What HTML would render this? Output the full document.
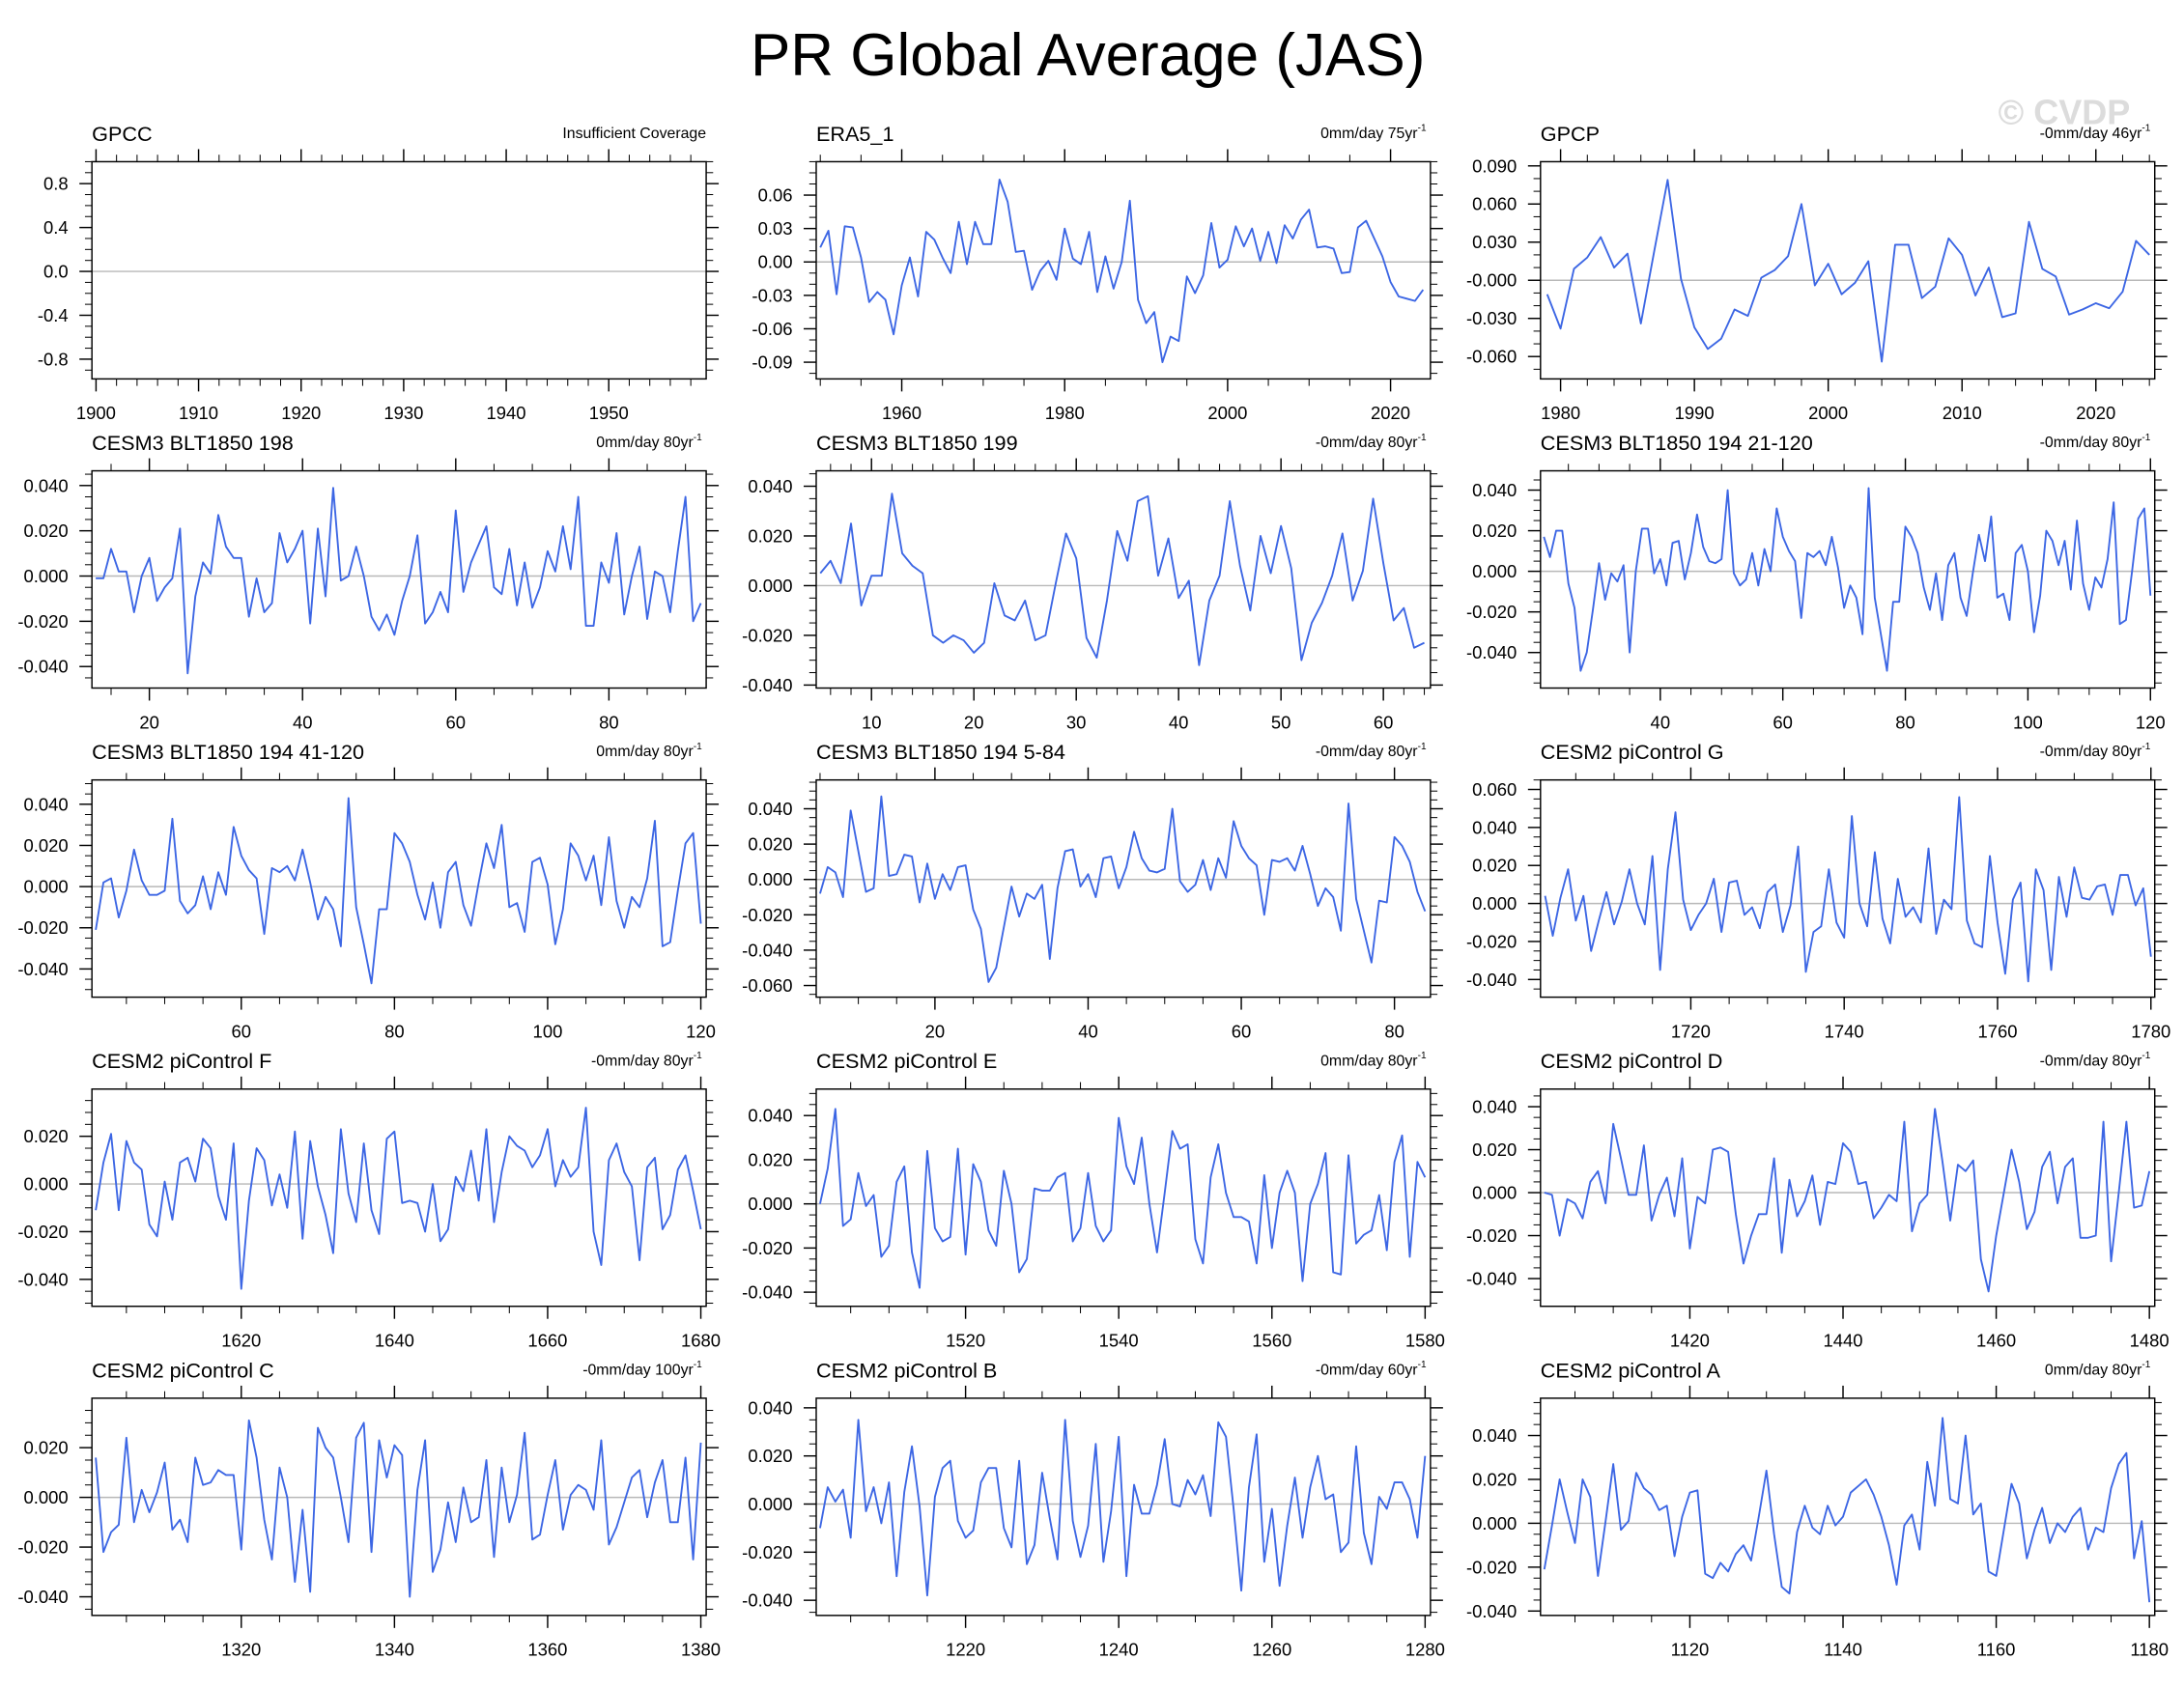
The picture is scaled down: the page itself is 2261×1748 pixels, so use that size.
<!DOCTYPE html>
<html><head><meta charset="utf-8"><title>PR Global Average (JAS)</title>
<style>
html,body{margin:0;padding:0;background:#fff;}
svg{display:block;}
text{font-family:"Liberation Sans",Arial,sans-serif;fill:#000;}
</style></head>
<body>
<svg id="fig" xmlns="http://www.w3.org/2000/svg" width="2261" height="1748" viewBox="0 0 1568 1212">
<rect x="0" y="0" width="1568" height="1212" fill="#fff"/>
<text x="781" y="54" font-size="43" text-anchor="middle">PR Global Average (JAS)</text>
<text x="1482" y="89" font-size="25" font-weight="bold" text-anchor="middle" style="fill:#dcdcdc">© CVDP</text>
</svg>
<script>
// ---------- data (mm/day anomalies) ----------
const gpccStart = [1900];
const gpccValues = [];
const era5Start = [1950];
const era5Values = [0.013,0.028,-0.029,0.032,0.031,0.004,-0.036,-0.027,-0.034,-0.065,-0.021,0.004,-0.031,0.027,0.020,0.004,-0.010,0.036,-0.002,0.036,0.016,0.016,0.074,0.054,0.009,0.010,-0.025,-0.008,0.001,-0.016,0.030,0.003,-0.002,0.027,-0.027,0.005,-0.024,0.000,0.055,-0.034,-0.055,-0.045,-0.090,-0.067,-0.071,-0.013,-0.028,-0.012,0.035,-0.005,0.002,0.032,0.014,0.030,0.001,0.027,-0.001,0.033,0.021,0.038,0.047,0.013,0.014,0.012,-0.010,-0.009,0.031,0.037,0.021,0.005,-0.018,-0.031,-0.033,-0.035,-0.025];
const gpcpStart = [1979];
const gpcpValues = [-0.011,-0.038,0.009,0.018,0.034,0.010,0.021,-0.034,0.023,0.079,0.001,-0.037,-0.054,-0.046,-0.023,-0.028,0.002,0.008,0.019,0.060,-0.004,0.013,-0.011,-0.002,0.015,-0.064,0.028,0.028,-0.014,-0.005,0.033,0.020,-0.012,0.010,-0.029,-0.026,0.046,0.009,0.003,-0.027,-0.023,-0.018,-0.022,-0.009,0.031,0.020];
const b198Start = [13];
const b198Values = [-0.001,-0.001,0.012,0.002,0.002,-0.016,0.000,0.008,-0.011,-0.005,-0.001,0.021,-0.043,-0.009,0.006,0.001,0.027,0.013,0.008,0.008,-0.018,-0.001,-0.016,-0.012,0.019,0.006,0.012,0.020,-0.021,0.021,-0.009,0.039,-0.002,0.000,0.013,0.000,-0.018,-0.024,-0.017,-0.026,-0.011,0.000,0.018,-0.021,-0.016,-0.007,-0.016,0.029,-0.007,0.006,0.014,0.022,-0.005,-0.008,0.012,-0.013,0.006,-0.014,-0.005,0.011,0.002,0.022,0.003,0.035,-0.022,-0.022,0.006,-0.003,0.019,-0.017,0.000,0.013,-0.019,0.002,0.000,-0.016,0.011,0.035,-0.020,-0.012];
const b199Start = [5];
const b199Values = [0.005,0.010,0.001,0.025,-0.008,0.004,0.004,0.037,0.013,0.008,0.005,-0.020,-0.023,-0.020,-0.022,-0.027,-0.023,0.001,-0.012,-0.014,-0.006,-0.022,-0.020,0.001,0.021,0.011,-0.021,-0.029,-0.006,0.022,0.010,0.034,0.036,0.004,0.019,-0.005,0.002,-0.032,-0.006,0.004,0.034,0.008,-0.010,0.020,0.005,0.024,0.007,-0.030,-0.015,-0.007,0.004,0.021,-0.006,0.006,0.035,0.009,-0.014,-0.009,-0.025,-0.023];
const b194aStart = [21];
const b194aValues = [0.017,0.007,0.020,0.020,-0.006,-0.018,-0.049,-0.040,-0.019,0.004,-0.014,-0.001,-0.005,0.003,-0.040,0.000,0.021,0.021,-0.001,0.006,-0.007,0.014,0.015,-0.004,0.009,0.028,0.012,0.005,0.004,0.006,0.040,-0.001,-0.007,-0.004,0.009,-0.007,0.011,0.000,0.031,0.017,0.010,0.005,-0.023,0.009,0.007,0.010,0.003,0.017,0.002,-0.018,-0.007,-0.013,-0.031,0.041,-0.013,-0.031,-0.049,-0.015,-0.015,0.022,0.017,0.009,-0.008,-0.019,-0.001,-0.024,0.003,0.009,-0.013,-0.022,-0.001,0.018,0.005,0.027,-0.013,-0.011,-0.024,0.009,0.013,0.000,-0.030,-0.012,0.020,0.015,0.003,0.015,-0.009,0.025,-0.006,-0.019,-0.003,-0.008,0.006,0.034,-0.026,-0.024,0.000,0.026,0.031,-0.012];
const b194bStart = [41];
const b194bValues = [-0.021,0.002,0.004,-0.015,-0.002,0.018,0.003,-0.004,-0.004,-0.002,0.033,-0.007,-0.013,-0.009,0.005,-0.011,0.007,-0.004,0.029,0.015,0.008,0.004,-0.023,0.009,0.007,0.010,0.003,0.018,0.002,-0.016,-0.005,-0.011,-0.029,0.043,-0.010,-0.028,-0.047,-0.011,-0.011,0.026,0.021,0.012,-0.004,-0.016,0.002,-0.020,0.007,0.012,-0.009,-0.019,0.002,0.021,0.009,0.030,-0.010,-0.008,-0.022,0.012,0.014,0.001,-0.028,-0.011,0.021,0.015,0.003,0.015,-0.009,0.024,-0.007,-0.020,-0.005,-0.010,0.004,0.032,-0.029,-0.027,-0.002,0.021,0.026,-0.018];
const b194cStart = [5];
const b194cValues = [-0.008,0.007,0.004,-0.010,0.039,0.016,-0.007,-0.005,0.047,0.002,0.003,0.014,0.013,-0.013,0.009,-0.011,0.003,-0.006,0.007,0.008,-0.017,-0.028,-0.058,-0.050,-0.027,-0.004,-0.021,-0.008,-0.011,-0.003,-0.045,-0.005,0.016,0.017,-0.004,0.003,-0.010,0.012,0.013,-0.005,0.007,0.027,0.012,0.005,0.004,0.006,0.040,-0.001,-0.007,-0.003,0.011,-0.006,0.012,0.001,0.033,0.019,0.012,0.008,-0.020,0.011,0.010,0.012,0.005,0.019,0.003,-0.015,-0.005,-0.010,-0.029,0.043,-0.011,-0.029,-0.047,-0.012,-0.013,0.024,0.019,0.010,-0.007,-0.018];
const pcGStart = [1701];
const pcGValues = [0.004,-0.017,0.003,0.018,-0.009,0.004,-0.025,-0.009,0.006,-0.011,0.001,0.018,0.000,-0.011,0.025,-0.035,0.018,0.048,0.002,-0.014,-0.006,0.000,0.013,-0.015,0.011,0.012,-0.006,-0.002,-0.013,0.006,0.010,-0.015,-0.001,0.030,-0.036,-0.015,-0.012,0.018,-0.010,-0.018,0.046,0.000,-0.012,0.027,-0.008,-0.021,0.013,-0.007,-0.002,-0.010,0.029,-0.016,0.002,-0.003,0.056,-0.009,-0.021,-0.023,0.025,-0.010,-0.037,0.002,0.011,-0.041,0.018,0.007,-0.035,0.014,-0.007,0.019,0.003,0.002,0.009,0.010,-0.006,0.015,0.015,-0.001,0.008,-0.028];
const pcFStart = [1601];
const pcFValues = [-0.011,0.009,0.021,-0.011,0.018,0.009,0.006,-0.017,-0.022,0.001,-0.015,0.009,0.011,0.001,0.019,0.015,-0.005,-0.015,0.017,-0.044,-0.007,0.015,0.010,-0.009,0.004,-0.010,0.022,-0.023,0.018,-0.001,-0.013,-0.029,0.023,-0.004,-0.016,0.017,-0.011,-0.021,0.019,0.022,-0.008,-0.007,-0.008,-0.020,0.000,-0.024,-0.019,0.003,-0.003,0.014,-0.007,0.023,-0.016,0.005,0.020,0.016,0.014,0.007,0.012,0.023,-0.001,0.010,0.003,0.007,0.032,-0.020,-0.034,0.010,0.017,0.005,-0.001,-0.032,0.007,0.011,-0.019,-0.013,0.006,0.012,-0.003,-0.019];
const pcEStart = [1501];
const pcEValues = [0.000,0.016,0.043,-0.010,-0.007,0.014,-0.001,0.004,-0.024,-0.019,0.010,0.017,-0.022,-0.038,0.024,-0.011,-0.017,-0.015,0.025,-0.023,0.018,0.010,-0.012,-0.019,0.015,0.000,-0.031,-0.025,0.007,0.006,0.006,0.012,0.014,-0.017,-0.011,0.014,-0.010,-0.017,-0.012,0.039,0.017,0.009,0.030,0.000,-0.022,0.005,0.033,0.025,0.027,-0.016,-0.027,0.012,0.027,0.005,-0.006,-0.006,-0.008,-0.027,0.013,-0.020,0.005,0.015,0.005,-0.035,0.000,0.009,0.023,-0.031,-0.032,0.022,-0.018,-0.014,-0.012,0.004,-0.021,0.019,0.031,-0.024,0.019,0.012];
const pcDStart = [1401];
const pcDValues = [0.000,-0.001,-0.020,-0.003,-0.005,-0.012,0.005,0.010,-0.005,0.032,0.016,-0.001,-0.001,0.022,-0.013,-0.001,0.007,-0.011,0.016,-0.026,-0.002,-0.005,0.020,0.021,0.019,-0.010,-0.033,-0.020,-0.010,-0.010,0.016,-0.028,0.006,-0.011,-0.004,0.008,-0.015,0.005,0.004,0.023,0.019,0.004,0.005,-0.012,-0.007,-0.001,-0.004,0.033,-0.018,-0.005,-0.001,0.039,0.014,-0.013,0.013,0.010,0.015,-0.031,-0.046,-0.020,0.000,0.020,0.005,-0.017,-0.009,0.012,0.019,-0.005,0.012,0.016,-0.021,-0.021,-0.020,0.033,-0.032,0.000,0.033,-0.007,-0.006,0.010];
const pcCStart = [1301];
const pcCValues = [0.016,-0.022,-0.014,-0.011,0.024,-0.010,0.003,-0.006,0.002,0.014,-0.013,-0.009,-0.018,0.016,0.005,0.006,0.011,0.009,0.009,-0.021,0.031,0.016,-0.009,-0.025,0.012,0.000,-0.034,-0.005,-0.038,0.028,0.020,0.016,0.000,-0.018,0.024,0.030,-0.022,0.023,0.008,0.021,0.017,-0.040,0.003,0.023,-0.030,-0.021,-0.002,-0.018,0.004,-0.010,-0.008,0.015,-0.024,0.012,-0.010,0.001,0.026,-0.017,-0.015,0.001,0.015,-0.013,0.001,0.005,0.003,-0.005,0.023,-0.019,-0.012,-0.002,0.008,0.011,-0.008,0.006,0.015,-0.010,-0.010,0.016,-0.025,0.022];
const pcBStart = [1201];
const pcBValues = [-0.010,0.007,0.001,0.006,-0.014,0.035,-0.003,0.007,-0.008,0.009,-0.030,0.005,0.024,-0.001,-0.038,0.003,0.015,0.018,-0.007,-0.014,-0.011,0.009,0.015,0.015,-0.010,-0.018,0.018,-0.025,-0.017,0.013,-0.006,-0.023,0.035,-0.007,-0.022,-0.009,0.025,-0.024,-0.003,0.028,-0.030,0.008,-0.004,-0.004,0.008,0.027,0.000,-0.001,0.010,0.004,0.012,-0.005,0.034,0.028,-0.002,-0.036,0.007,0.029,-0.024,-0.002,-0.034,-0.009,0.011,-0.014,0.007,0.020,0.002,0.004,-0.020,-0.016,0.024,-0.012,-0.025,0.003,-0.002,0.009,0.009,0.002,-0.014,0.020];
const pcAStart = [1101];
const pcAValues = [-0.021,-0.001,0.020,0.005,-0.009,0.020,0.012,-0.024,0.001,0.027,-0.003,0.001,0.023,0.016,0.013,0.006,0.008,-0.015,0.003,0.014,0.015,-0.023,-0.025,-0.018,-0.022,-0.014,-0.010,-0.017,0.003,0.024,-0.005,-0.029,-0.032,-0.004,0.008,-0.002,-0.005,0.008,-0.001,0.003,0.014,0.017,0.020,0.013,0.003,-0.010,-0.028,-0.001,0.004,-0.012,0.028,0.008,0.048,0.011,0.009,0.040,0.004,0.009,-0.022,-0.024,-0.003,0.018,0.009,-0.016,-0.003,0.007,-0.009,0.000,-0.004,0.003,0.007,-0.012,-0.002,-0.004,0.016,0.027,0.032,-0.016,0.001,-0.036];

// tick label arrays
const yt4 = ["0.040","0.020","0.000","-0.020","-0.040"];
const gpccYTicks = ["0.8","0.4","0.0","-0.4","-0.8"];
const era5YTicks = ["0.06","0.03","0.00","-0.03","-0.06","-0.09"];
const gpcpYTicks = ["0.090","0.060","0.030","-0.000","-0.030","-0.060"];
const g5YTicks = ["0.040","0.020","0.000","-0.020","-0.040","-0.060"];
const gGYTicks = ["0.060","0.040","0.020","0.000","-0.020","-0.040"];
const fYTicks = ["0.020","0.000","-0.020","-0.040"];
const gpccXTicks = [1900,1910,1920,1930,1940,1950];
const era5XTicks = [1960,1980,2000,2020];
const gpcpXTicks = [1980,1990,2000,2010,2020];
const b198XTicks = [20,40,60,80];
const b199XTicks = [10,20,30,40,50,60];
const b194aXTicks = [40,60,80,100,120];
const b194bXTicks = [60,80,100,120];
const b194cXTicks = [20,40,60,80];

// ---------- layout ----------
const COLS = [[66,507],[586,1027],[1106,1547]];
const ROWS = [[116,272],[338,494],[560,716],[782,938],[1004,1160]];
const NS = "http://www.w3.org/2000/svg";
const svg = document.getElementById('fig');

function mk(tag, attrs, parent){
  const e = document.createElementNS(NS, tag);
  for (const k in attrs) e.setAttribute(k, attrs[k]);
  (parent||svg).appendChild(e);
  return e;
}

const panels = [
 {id:"gpcc",title:"GPCC",right:"Insufficient Coverage",col:0,row:0,start:gpccStart,vals:gpccValues,x0:1899.6,x1:1959.5,y0:-0.98,y1:1.0,yt:gpccYTicks,ymin:0.1,xt:gpccXTicks,xmin:2},
 {id:"era5",title:"ERA5_1",right:"0mm/day 75yr",col:1,row:0,start:era5Start,vals:era5Values,x0:1949.5,x1:2024.9,y0:-0.105,y1:0.09,yt:era5YTicks,ymin:0.01,xt:era5XTicks,xmin:5},
 {id:"gpcp",title:"GPCP",right:"-0mm/day 46yr",col:2,row:0,start:gpcpStart,vals:gpcpValues,x0:1978.5,x1:2024.4,y0:-0.0776,y1:0.0933,yt:gpcpYTicks,ymin:0.01,xt:gpcpXTicks,xmin:2},
 {id:"cesm3-198",title:"CESM3 BLT1850 198",right:"0mm/day 80yr",col:0,row:1,start:b198Start,vals:b198Values,x0:12.5,x1:92.7,y0:-0.0495,y1:0.0465,yt:yt4,ymin:0.005,xt:b198XTicks,xmin:5},
 {id:"cesm3-199",title:"CESM3 BLT1850 199",right:"-0mm/day 80yr",col:1,row:1,start:b199Start,vals:b199Values,x0:4.6,x1:64.6,y0:-0.0412,y1:0.0462,yt:yt4,ymin:0.005,xt:b199XTicks,xmin:2},
 {id:"cesm3-194-21",title:"CESM3 BLT1850 194 21-120",right:"-0mm/day 80yr",col:2,row:1,start:b194aStart,vals:b194aValues,x0:20.45,x1:120.7,y0:-0.0575,y1:0.0495,yt:yt4,ymin:0.005,xt:b194aXTicks,xmin:5},
 {id:"cesm3-194-41",title:"CESM3 BLT1850 194 41-120",right:"0mm/day 80yr",col:0,row:2,start:b194bStart,vals:b194bValues,x0:40.5,x1:120.7,y0:-0.0537,y1:0.0518,yt:yt4,ymin:0.005,xt:b194bXTicks,xmin:5},
 {id:"cesm3-194-5",title:"CESM3 BLT1850 194 5-84",right:"-0mm/day 80yr",col:1,row:2,start:b194cStart,vals:b194cValues,x0:4.5,x1:84.7,y0:-0.0666,y1:0.0563,yt:g5YTicks,ymin:0.005,xt:b194cXTicks,xmin:5},
 {id:"pictl-g",title:"CESM2 piControl G",right:"-0mm/day 80yr",col:2,row:2,start:pcGStart,vals:pcGValues,x0:1700.4,x1:1780.5,y0:-0.0493,y1:0.065,yt:gGYTicks,ymin:0.005,xt:[1720,1740,1760,1780],xmin:5},
 {id:"pictl-f",title:"CESM2 piControl F",right:"-0mm/day 80yr",col:0,row:3,start:pcFStart,vals:pcFValues,x0:1600.5,x1:1680.7,y0:-0.0513,y1:0.0398,yt:fYTicks,ymin:0.005,xt:[1620,1640,1660,1680],xmin:5},
 {id:"pictl-e",title:"CESM2 piControl E",right:"0mm/day 80yr",col:1,row:3,start:pcEStart,vals:pcEValues,x0:1500.5,x1:1580.7,y0:-0.0464,y1:0.052,yt:yt4,ymin:0.005,xt:[1520,1540,1560,1580],xmin:5},
 {id:"pictl-d",title:"CESM2 piControl D",right:"-0mm/day 80yr",col:2,row:3,start:pcDStart,vals:pcDValues,x0:1400.5,x1:1480.7,y0:-0.0529,y1:0.0482,yt:yt4,ymin:0.005,xt:[1420,1440,1460,1480],xmin:5},
 {id:"pictl-c",title:"CESM2 piControl C",right:"-0mm/day 100yr",col:0,row:4,start:pcCStart,vals:pcCValues,x0:1300.5,x1:1380.7,y0:-0.0475,y1:0.0399,yt:fYTicks,ymin:0.005,xt:[1320,1340,1360,1380],xmin:5},
 {id:"pictl-b",title:"CESM2 piControl B",right:"-0mm/day 60yr",col:1,row:4,start:pcBStart,vals:pcBValues,x0:1200.5,x1:1280.7,y0:-0.0463,y1:0.044,yt:yt4,ymin:0.005,xt:[1220,1240,1260,1280],xmin:5},
 {id:"pictl-a",title:"CESM2 piControl A",right:"0mm/day 80yr",col:2,row:4,start:pcAStart,vals:pcAValues,x0:1100.5,x1:1180.7,y0:-0.042,y1:0.057,yt:yt4,ymin:0.005,xt:[1120,1140,1160,1180],xmin:5}
];

panels.forEach(p => {
  const L = COLS[p.col][0], R = COLS[p.col][1], T = ROWS[p.row][0], B = ROWS[p.row][1];
  const sx = x => L + (x - p.x0) / (p.x1 - p.x0) * (R - L);
  const sy = v => B - (v - p.y0) / (p.y1 - p.y0) * (B - T);
  const g = mk('g', {});
  
  

  const t1 = mk('text', {x: L, y: T - 15, 'font-size': 15}, g);
  t1.textContent = p.title;
  
  

  const t2 = mk('text', {x: R - (p.id === 'gpcc' ? 0 : 3), y: T - 17, 'font-size': 11, 'text-anchor': 'end'}, g);
  t2.textContent = p.right;
  if (p.id !== 'gpcc') {
    const sup = mk('tspan', {'font-size': 7, dy: -5}, t2);
    sup.textContent = '-1';
  }
  
  

  const zl = mk('line', {x1: L, x2: R, y1: sy(0), y2: sy(0), stroke: '#b8b8b8', 'stroke-width': 1}, g);
  
  

  const ynums = p.yt.map(Number);
  const lo = Math.ceil(p.y0 / p.ymin - 1e-6), hi = Math.floor(p.y1 / p.ymin + 1e-6);
  for (let k = lo; k <= hi; k++) {
    const v = k * p.ymin, y = sy(v);
    const isMaj = ynums.some(m => Math.abs(m - v) < p.ymin * 0.01);
    const len = isMaj ? 9 : 5;
    mk('line', {x1: L - len, x2: L, y1: y, y2: y, stroke: '#000', 'stroke-width': isMaj ? 1 : 0.7}, g);
    mk('line', {x1: R, x2: R + len, y1: y, y2: y, stroke: '#000', 'stroke-width': isMaj ? 1 : 0.7}, g);
  }
  p.yt.forEach(lbl => {
    const tl = mk('text', {x: L - 17, y: sy(Number(lbl)) + 4.5, 'font-size': 12.8, 'text-anchor': 'end'}, g);
    tl.textContent = lbl;
    
    
  });

  const xlo = Math.ceil(p.x0 / p.xmin), xhi = Math.floor(p.x1 / p.xmin);
  for (let k = xlo; k <= xhi; k++) {
    const v = k * p.xmin, x = sx(v);
    const isMaj = p.xt.includes(v);
    const len = isMaj ? 9 : 5;
    mk('line', {x1: x, x2: x, y1: B, y2: B + len, stroke: '#000', 'stroke-width': isMaj ? 1 : 0.7}, g);
    mk('line', {x1: x, x2: x, y1: T - len, y2: T, stroke: '#000', 'stroke-width': isMaj ? 1 : 0.7}, g);
  }
  p.xt.forEach(lbl => {
    const tl = mk('text', {x: sx(lbl), y: B + 29, 'font-size': 12.8, 'text-anchor': 'middle'}, g);
    tl.textContent = String(lbl);
    
    
  });

  if (p.vals.length) {
    const pts = p.vals.map((v, i) => sx(p.start[0] + i).toFixed(2) + ',' + sy(v).toFixed(2)).join(' ');
    const pl = mk('polyline', {points: pts, fill: 'none', stroke: '#3c66e4', 'stroke-width': 1.3, 'stroke-linejoin': 'round'}, g);
    
    
  }

  const fr = mk('rect', {x: L, y: T, width: R - L, height: B - T, fill: 'none', stroke: '#000', 'stroke-width': 1}, g);
  
  
});
</script>
</body></html>
